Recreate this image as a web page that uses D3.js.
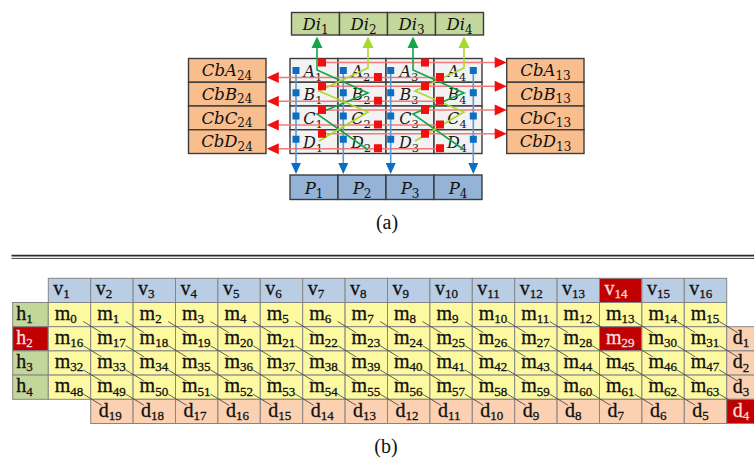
<!DOCTYPE html>
<html>
<head>
<meta charset="utf-8">
<script src="https://cdn.jsdelivr.net/npm/d3@7"></script>
<style>
  body { margin: 0; background: #fff; }
  svg { display: block; }
</style>
</head>
<body>
<svg id="fig" width="754" height="459"></svg>
<script>
// ---------- Panel (a): 4x4 data block with its parity flows ----------
const rowLetters = ["A", "B", "C", "D"];
const colNumbers = ["1", "2", "3", "4"];
const diagOutputs = ["1", "2", "3", "4"];          // Di_k boxes on top
const parityOutputs = ["1", "2", "3", "4"];        // P_k boxes at the bottom
const leftChecks = ["A", "B", "C", "D"];           // CbX_24 on the left
const rightChecks = ["A", "B", "C", "D"];          // CbX_13 on the right
const leftSuffix = "24";
const rightSuffix = "13";

// cells feeding each row check (column numbers, 1-based)
const rightFlowCols = [1, 3];
const leftFlowCols = [2, 4];

// zig-zag diagonal chains: output index, tone, visited cells (row, col)
const diagChains = [
  { out: 0, tone: "dark",  cells: [["A", 1], ["B", 2], ["C", 1], ["D", 2]] },
  { out: 1, tone: "light", cells: [["A", 2], ["B", 1], ["C", 2], ["D", 1]] },
  { out: 2, tone: "dark",  cells: [["A", 3], ["B", 4], ["C", 3], ["D", 4]] },
  { out: 3, tone: "light", cells: [["A", 4], ["B", 3], ["C", 4], ["D", 3]] }
];

// ---------- Panel (b): 4x16 block with horizontal / vertical / diagonal parity ----------
const vLabels = ["1","2","3","4","5","6","7","8","9","10","11","12","13","14","15","16"];
const hLabels = ["1","2","3","4"];
const mLabels = [
  ["0","1","2","3","4","5","6","7","8","9","10","11","12","13","14","15"],
  ["16","17","18","19","20","21","22","23","24","25","26","27","28","29","30","31"],
  ["32","33","34","35","36","37","38","39","40","41","42","43","44","45","46","47"],
  ["48","49","50","51","52","53","54","55","56","57","58","59","60","61","62","63"]
];
const bottomD = ["19","18","17","16","15","14","13","12","11","10","9","8","7","6","5"]; // under v2..v16
const sideD = ["1","2","3","4"];  // right of h2, h3, h4 and of the bottom row
const failedV = ["14"];
const failedH = ["2"];
const failedM = ["29"];
const failedD = ["4"];

// ---------- drawing ----------
const svg = d3.select("#fig");

const C = {
  gridFill: "#f2f2f2", frame: "#3c3c3c",
  diFill: "#c3d69b", cbFill: "#f9be8e", pFill: "#95b3d7",
  red: "#f01010", redLine: "#f47a7a",
  blue: "#0a6fc2", blueLine: "#5b9bd5",
  dark: "#12a64a", light: "#a9d92a",
  head: "#b9cde5", yellow: "#fdf9a0", hFill: "#c4d79b", dFill: "#fbd1b1",
  fail: "#c00000", cellLine: "#858585"
};

const mathFont = "'DejaVu Serif', serif";
const textFont = "'Liberation Serif', 'Times New Roman', serif";

// text with a subscript
function subText(g, x, y, main, sub, o) {
  const t = g.append("text")
    .attr("x", x).attr("y", y)
    .attr("font-family", o.font)
    .attr("font-size", o.size)
    .attr("fill", o.fill || "#111")
    .attr("text-anchor", o.anchor || "start");
  if (o.weight) t.attr("stroke", o.fill || "#111").attr("stroke-width", o.weight);
  t.append("tspan").attr("font-style", o.italic ? "italic" : "normal").text(main);
  t.append("tspan").attr("font-size", o.subSize).attr("dy", o.subDy).text(sub);
  return t;
}

function arrowHead(g, tipX, tipY, dir, len, half, fill) {
  let pts;
  if (dir === "up") pts = [[tipX, tipY], [tipX - half, tipY + len], [tipX + half, tipY + len]];
  else if (dir === "down") pts = [[tipX, tipY], [tipX - half, tipY - len], [tipX + half, tipY - len]];
  else if (dir === "right") pts = [[tipX, tipY], [tipX - len, tipY - half], [tipX - len, tipY + half]];
  else pts = [[tipX, tipY], [tipX + len, tipY - half], [tipX + len, tipY + half]];
  g.append("polygon").attr("points", pts.map(p => p.join(",")).join(" ")).attr("fill", fill);
}

// ---- panel (a) ----
const ga = svg.append("g");
const xA = d3.scaleLinear().domain([0, 4]).range([290, 482]);
const yA = d3.scaleLinear().domain([0, 4]).range([58.5, 153.5]);
const colW = xA(1) - xA(0), rowH = yA(1) - yA(0);
const rowOf = l => rowLetters.indexOf(l);

// grid cells
rowLetters.forEach((r, ri) => colNumbers.forEach((c, ci) => {
  ga.append("rect")
    .attr("x", xA(ci)).attr("y", yA(ri)).attr("width", colW).attr("height", rowH)
    .attr("fill", C.gridFill).attr("stroke", C.frame).attr("stroke-width", 1.4);
}));

// Di boxes on top
diagOutputs.forEach((d, i) => {
  ga.append("rect").attr("x", xA(i) + 1.5).attr("y", 12.5).attr("width", colW).attr("height", 22.5)
    .attr("fill", C.diFill).attr("stroke", C.frame).attr("stroke-width", 1.4);
  subText(ga, xA(i) + 1.5 + colW / 2, 30, "Di", d,
    { font: mathFont, size: 16.5, subSize: 12, subDy: 4, italic: true, anchor: "middle" });
});

// P boxes at the bottom
parityOutputs.forEach((p, i) => {
  ga.append("rect").attr("x", xA(i)).attr("y", 175).attr("width", colW).attr("height", 24.5)
    .attr("fill", C.pFill).attr("stroke", C.frame).attr("stroke-width", 1.4);
  subText(ga, xA(i) + colW / 2, 194, "P", p,
    { font: mathFont, size: 16.5, subSize: 12, subDy: 4, italic: true, anchor: "middle" });
});

// row check boxes, left and right
leftChecks.forEach((l, i) => {
  ga.append("rect").attr("x", 188.5).attr("y", yA(i)).attr("width", 77.5).attr("height", rowH)
    .attr("fill", C.cbFill).attr("stroke", C.frame).attr("stroke-width", 1.4);
  subText(ga, 227, yA(i) + 17.5, "Cb" + l, leftSuffix,
    { font: mathFont, size: 16.5, subSize: 12, subDy: 3.5, italic: true, anchor: "middle" });
});
rightChecks.forEach((l, i) => {
  ga.append("rect").attr("x", 506.7).attr("y", yA(i)).attr("width", 77.3).attr("height", rowH)
    .attr("fill", C.cbFill).attr("stroke", C.frame).attr("stroke-width", 1.4);
  subText(ga, 545.5, yA(i) + 17.5, "Cb" + l, rightSuffix,
    { font: mathFont, size: 16.5, subSize: 12, subDy: 3.5, italic: true, anchor: "middle" });
});

// cell labels
rowLetters.forEach((r, ri) => colNumbers.forEach((c, ci) => {
  subText(ga, xA(ci) + colW / 2 - 1, yA(ri) + 18, r, c,
    { font: mathFont, size: 16, subSize: 11.5, subDy: 4, italic: true, anchor: "middle", fill: "#1a1a1a" });
}));

// row check flows (red)
const rightSqX = [32, null, 39, null];   // square offset inside a cell (px from cell left)
const leftSqX = [null, 40, null, 6];
rowLetters.forEach((r, ri) => {
  const yR = yA(ri) + 4, yL = yA(ri) + 19;
  const x0 = xA(rightFlowCols[0] - 1) + rightSqX[rightFlowCols[0] - 1];
  ga.append("line").attr("x1", x0).attr("x2", 495).attr("y1", yR).attr("y2", yR)
    .attr("stroke", C.redLine).attr("stroke-width", 1.5);
  arrowHead(ga, 506.7, yR, "right", 12, 5.5, C.red);
  const x1 = xA(leftFlowCols[1] - 1) + leftSqX[leftFlowCols[1] - 1];
  ga.append("line").attr("x1", x1).attr("x2", 279).attr("y1", yL).attr("y2", yL)
    .attr("stroke", C.redLine).attr("stroke-width", 1.5);
  arrowHead(ga, 266.8, yL, "left", 12, 5.5, C.red);
});

// column parity flows (blue)
const blueOff = [6, 5.3, 4.7, 39.3];
const blueDy = [12, 10.5, 10, 9.5];
colNumbers.forEach((c, ci) => {
  const x = xA(ci) + blueOff[ci];
  ga.append("line").attr("x1", x).attr("x2", x).attr("y1", yA(0) + blueDy[0]).attr("y2", 163)
    .attr("stroke", C.blueLine).attr("stroke-width", 1.6);
  arrowHead(ga, x, 174, "down", 11, 5, C.blue);
  rowLetters.forEach((r, ri) => {
    ga.append("rect").attr("x", x - 3.5).attr("y", yA(ri) + blueDy[ri] - 3.5)
      .attr("width", 7).attr("height", 7).attr("fill", C.blue);
  });
});

// diagonal zig-zag chains (green)
const zigX = { dark: [27, 30], light: [29, 30] };  // px offset for the left / right column of a pair
const zigY = { dark: [11.5, 10.7, 8, 20], light: [9.5, 8.8, 6, 11.3] };
diagChains.forEach(ch => {
  const pairLeft = Math.min(...ch.cells.map(c => c[1]));
  const pts = ch.cells.map(([r, c]) => {
    const ri = rowOf(r);
    const xo = c === pairLeft ? zigX[ch.tone][0] : zigX[ch.tone][1];
    return [xA(c - 1) + xo, yA(ri) + zigY[ch.tone][ri]];
  });
  const topX = pts[0][0];
  const line = d3.line();
  ga.append("path").attr("d", line([[topX, 47.5], ...pts]))
    .attr("fill", "none").attr("stroke", C[ch.tone]).attr("stroke-width", 1.6);
  arrowHead(ga, topX, 36.5, "up", 11.5, 5.5, C[ch.tone]);
});

// red squares drawn last so they sit on top
rowLetters.forEach((r, ri) => {
  rightFlowCols.forEach(c => {
    ga.append("rect").attr("x", xA(c - 1) + rightSqX[c - 1] - 4).attr("y", yA(ri) + 4 - 4)
      .attr("width", 8).attr("height", 8).attr("fill", C.red);
  });
  leftFlowCols.forEach(c => {
    ga.append("rect").attr("x", xA(c - 1) + leftSqX[c - 1] - 4).attr("y", yA(ri) + 18.5 - 4)
      .attr("width", 8).attr("height", 8).attr("fill", C.red);
  });
});

svg.append("text").attr("x", 387).attr("y", 229).attr("text-anchor", "middle")
  .attr("font-family", textFont).attr("font-size", 20).attr("fill", "#111").text("(a)");

// separator (double rule)
svg.append("line").attr("x1", 11.5).attr("x2", 754).attr("y1", 255.6).attr("y2", 255.6)
  .attr("stroke", "#2b2b2b").attr("stroke-width", 1.8);
svg.append("line").attr("x1", 11.5).attr("x2", 754).attr("y1", 258.4).attr("y2", 258.4)
  .attr("stroke", "#2b2b2b").attr("stroke-width", 0.9);

// ---- panel (b) ----
const gb = svg.append("g");
const xB = d3.scaleLinear().domain([0, 16]).range([48.3, 726.7]);
const yB = d3.scaleLinear().domain([0, 6]).range([278.3, 423.5]);
const cw = xB(1) - xB(0), ch = yB(1) - yB(0);
const hX = 12.7;

function cell(x, y, w, h, fill) {
  gb.append("rect").attr("x", x).attr("y", y).attr("width", w).attr("height", h)
    .attr("fill", fill).attr("stroke", C.cellLine).attr("stroke-width", 1);
}
const tOpt = (fail, dy) => ({ font: textFont, size: 20, subSize: 13, subDy: dy, weight: 0.3,
                              fill: fail ? "#f6dede" : "#111" });

// header row v1..v16
vLabels.forEach((v, i) => cell(xB(i), yB(0), cw, ch, failedV.includes(v) ? C.fail : C.head));
// h column
hLabels.forEach((h, i) => cell(hX, yB(i + 1), xB(0) - hX, ch, failedH.includes(h) ? C.fail : C.hFill));
// data cells
mLabels.forEach((row, r) => row.forEach((m, c) =>
  cell(xB(c), yB(r + 1), cw, ch, failedM.includes(m) ? C.fail : C.yellow)));
// bottom diagonal-parity row
bottomD.forEach((d, i) => cell(xB(i + 1), yB(5), cw, ch, failedD.includes(d) ? C.fail : C.dFill));
// right diagonal-parity column
sideD.forEach((d, i) => cell(xB(16), yB(i + 2), cw, ch, failedD.includes(d) ? C.fail : C.dFill));

// diagonal links from every data cell to its lower-right neighbour
mLabels.forEach((row, r) => row.forEach((m, c) => {
  gb.append("line")
    .attr("x1", xB(c) + 35).attr("y1", yB(r + 1) + 19)
    .attr("x2", xB(c + 1) + 11).attr("y2", yB(r + 2) + 6)
    .attr("stroke", "#3a3a3a").attr("stroke-width", 0.8);
}));

// labels
vLabels.forEach((v, i) => subText(gb, xB(i) + 5, yB(0) + 17, "v", v, tOpt(failedV.includes(v), 2.5)));
hLabels.forEach((h, i) => subText(gb, hX + 3.5, yB(i + 1) + 17.2, "h", h, tOpt(failedH.includes(h), 3.2)));
mLabels.forEach((row, r) => row.forEach((m, c) =>
  subText(gb, xB(c) + 6.5, yB(r + 1) + 17.2, "m", m, tOpt(failedM.includes(m), 3.2))));
bottomD.forEach((d, i) => subText(gb, xB(i + 1) + 8, yB(5) + 17.8, "d", d, tOpt(failedD.includes(d), 3.2)));
sideD.forEach((d, i) => subText(gb, xB(16) + 6, yB(i + 2) + 17.5, "d", d, tOpt(failedD.includes(d), 3.2)));

svg.append("text").attr("x", 386).attr("y", 453).attr("text-anchor", "middle")
  .attr("font-family", textFont).attr("font-size", 20).attr("fill", "#111").text("(b)");
</script>
</body>
</html>
